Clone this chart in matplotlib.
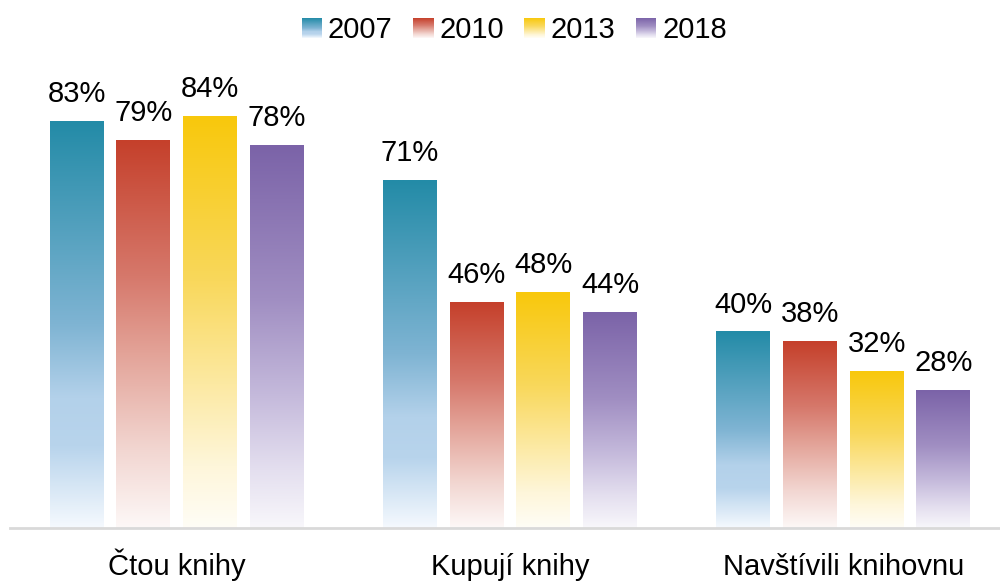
import matplotlib
matplotlib.use("Agg")
import matplotlib.pyplot as plt
import numpy as np
from matplotlib.colors import LinearSegmentedColormap
from matplotlib.legend_handler import HandlerBase
from matplotlib.patches import Rectangle

CATEGORIES = ["Čtou knihy", "Kupují knihy", "Navštívili knihovnu"]
YEARS = ["2007", "2010", "2013", "2018"]
VALUES = {
    "2007": [83, 71, 40],
    "2010": [79, 46, 38],
    "2013": [84, 48, 32],
    "2018": [78, 44, 28],
}
# gradient stops, from top of bar (0) to bottom (1)
GRADIENTS = {
    "2007": [(0.0, "#238BA7"), (0.5, "#7FB4D3"), (0.68, "#B3D1EA"), (0.8, "#B8D4EC"), (1.0, "#F5F9FE")],
    "2010": [(0.0, "#C5402B"), (0.35, "#D6786B"), (0.55, "#E3A398"), (0.8, "#F2D6D1"), (1.0, "#FDF8F7")],
    "2013": [(0.0, "#F8C80C"), (0.4, "#F9D85C"), (0.65, "#FCE9A2"), (0.85, "#FEF6DA"), (1.0, "#FFFDF6")],
    "2018": [(0.0, "#7B63A8"), (0.4, "#A08EC2"), (0.65, "#C4B9DB"), (0.85, "#E4DFEF"), (1.0, "#F8F7FB")],
}

plt.rcParams["font.family"] = ["Liberation Sans", "DejaVu Sans"]
FS = 21


def make_cmap(year):
    # colormap runs bottom (0) -> top (1)
    stops = [(1.0 - p, c) for p, c in GRADIENTS[year]][::-1]
    return LinearSegmentedColormap.from_list(year, stops)


class GradientHandler(HandlerBase):
    def create_artists(self, legend, orig_handle, xdescent, ydescent,
                       width, height, fontsize, trans):
        cmap = make_cmap(orig_handle.get_label())
        n = 20
        size = height * 1.1
        y0 = -ydescent + (height - size) / 2
        x0 = -xdescent + (width - size) / 2
        arts = []
        for i in range(n):
            r = Rectangle((x0, y0 + size * i / n), size, size / n + 0.05,
                          facecolor=cmap((i + 0.5) / n), edgecolor="none",
                          transform=trans)
            arts.append(r)
        return arts


fig = plt.figure(figsize=(10, 5.81), dpi=100)
ax = fig.add_axes([0.01, 0.0912, 1.0, 0.8434])

width = 0.162
step = 0.2
x = np.arange(len(CATEGORIES))
grad = np.linspace(0, 1, 256).reshape(-1, 1)

for i, year in enumerate(YEARS):
    pos = x + (i - 1.5) * step
    bars = ax.bar(pos, VALUES[year], width=width, color="none", edgecolor="none")
    cmap = make_cmap(year)
    for b, v in zip(bars, VALUES[year]):
        x0 = b.get_x()
        ax.imshow(grad, cmap=cmap, aspect="auto", origin="lower",
                  extent=(x0, x0 + width, 0, v), interpolation="bilinear", zorder=2)
        ax.annotate(f"{v}%", xy=(b.get_x() + width / 2, v), xytext=(0, 14),
                    textcoords="offset points", ha="center", va="baseline",
                    fontsize=FS, color="#000000")

for xi, cat in zip(x, CATEGORIES):
    ax.annotate(cat, xy=(xi, 0), xycoords=("data", "axes fraction"),
                xytext=(0, -34), textcoords="offset points",
                ha="center", va="baseline", fontsize=FS, color="#000000")

ax.set_xlim(-0.5, 2.5)
ax.set_ylim(0, 100)
ax.set_xticks([])
ax.set_yticks([])
for s in ["top", "right", "left"]:
    ax.spines[s].set_visible(False)
ax.spines["bottom"].set_color("#D9D9D9")
ax.spines["bottom"].set_linewidth(2)

handles = [Rectangle((0, 0), 1, 1, label=y) for y in YEARS]
fig.legend(handles=handles, labels=YEARS, loc="center", bbox_to_anchor=(0.515, 0.948),
           ncol=4, frameon=False, fontsize=FS, handlelength=0.6, handleheight=0.6,
           handletextpad=0.25, columnspacing=0.75,
           handler_map={Rectangle: GradientHandler()})

fig.savefig("out.png", dpi=100)
